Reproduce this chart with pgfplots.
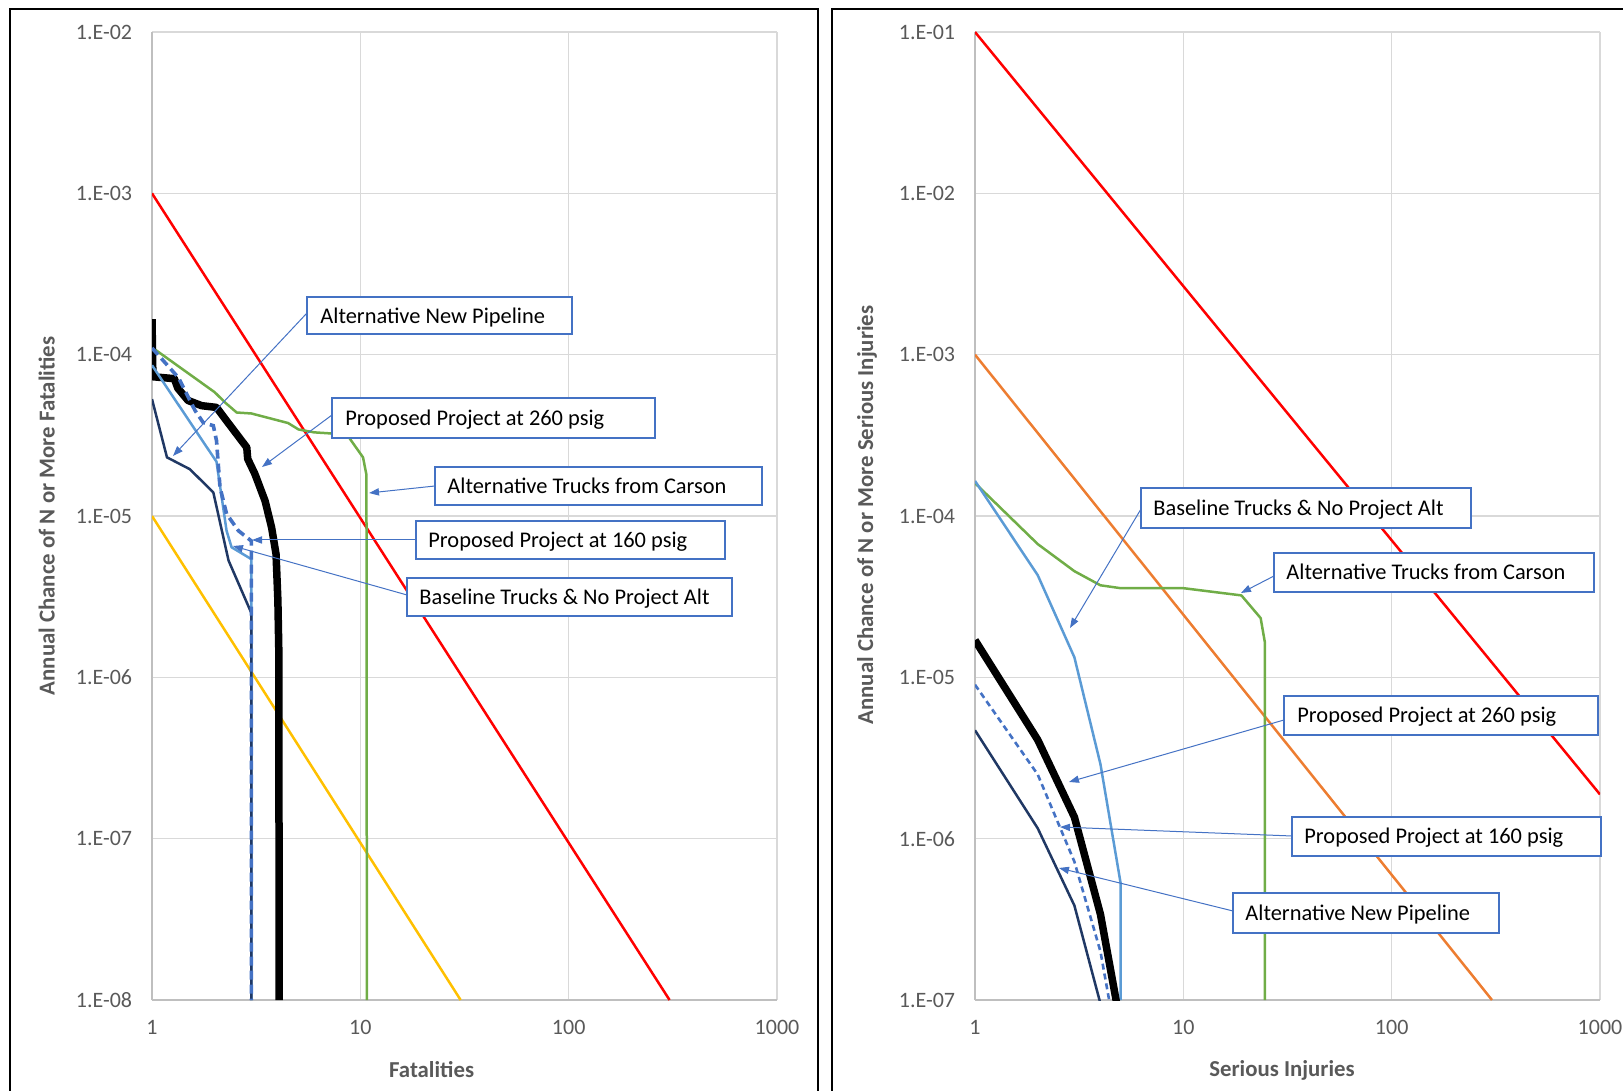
\documentclass[border=0pt]{standalone}
\usepackage{fontspec}
\setmainfont{Carlito}
\usepackage{pgfplots}
\pgfplotsset{compat=1.18}
\usetikzlibrary{arrows.meta}
\definecolor{gridc}{HTML}{D9D9D9}
\definecolor{axisc}{HTML}{BFBFBF}
\definecolor{tickc}{HTML}{595959}
\definecolor{lblue}{HTML}{5B9BD5}
\definecolor{mblue}{HTML}{4472C4}
\definecolor{navy}{HTML}{203864}
\definecolor{xgreen}{HTML}{70AD47}
\definecolor{xyellow}{HTML}{FFC000}
\definecolor{xorange}{HTML}{ED7D31}
\definecolor{xred}{HTML}{FF0000}

\newcommand{\afont}{\fontsize{11.2}{13}\selectfont}

\begin{document}
\begin{tikzpicture}
\useasboundingbox (0,0) rectangle (811.5pt,545.5pt);

% ---------------- Left: Fatalities ----------------
\begin{axis}[at={(76pt,45.5pt)}, anchor=south west,
  scale only axis, width=312.5pt, height=484pt,
  xmode=log, ymode=log, xmin=1, xmax=1000,
  xtick={1,10,100,1000}, xticklabels={1,10,100,1000},
  grid=major, grid style={gridc, line width=0.6pt},
  axis x line*=bottom, axis y line*=left,
  axis line style={axisc, line width=0.75pt, -},
  tick style={draw=none},
  major tick length=0pt, minor tick length=0pt,
  tick label style={font=\fontsize{11}{13}\selectfont, text=tickc, inner sep=0pt},
  xticklabel style={yshift=-10pt},
  yticklabel style={xshift=-9.75pt},
  ymin=1e-8, ymax=1e-2,
  ytick={1e-8,1e-7,1e-6,1e-5,1e-4,1e-3,1e-2},
  yticklabels={1.E-08,1.E-07,1.E-06,1.E-05,1.E-04,1.E-03,1.E-02}]
\addplot[line width=1.25pt, xred] coordinates {(1,1e-3) (305,1e-8)};
\addplot[line width=1.25pt, xyellow] coordinates {(1,1e-5) (30.3,1e-8)};
\addplot[line width=1.25pt, line join=round, xgreen] coordinates {
 (1,1.11e-4) (2.0,5.85e-5) (2.24,5.06e-5) (2.55,4.38e-5) (3.0,4.32e-5)
 (4.5,3.77e-5) (5.05,3.44e-5) (6.0,3.3e-5) (7.2,3.25e-5) (8.8,3.08e-5)
 (10.3,2.31e-5) (10.7,1.8e-5) (10.75,1e-8)};
\addplot[line width=3.75pt, black, line join=round] coordinates {
 (1,1.66e-4) (1.01,7.3e-5) (1.28,7.1e-5) (1.33,6.2e-5) (1.49,5.2e-5)
 (1.73,4.83e-5) (2.04,4.71e-5) (2.41,3.54e-5) (2.85,2.66e-5) (2.88,2.26e-5)
 (3.12,1.82e-5) (3.49,1.24e-5) (3.75,8.5e-6) (3.94,5.8e-6) (4.02,3e-6)
 (4.06,1.5e-6) (4.08,1e-8)};
\addplot[line width=1.25pt, line join=round, lblue] coordinates {
 (1,8.6e-5) (2.04,2.17e-5) (2.28,8.1e-6) (2.41,6.4e-6) (3.0,5.4e-6) (3.0,1e-8)};
\addplot[line width=1.25pt, line join=round, navy] coordinates {
 (1,5.3e-5) (1.18,2.31e-5) (1.52,1.95e-5) (1.97,1.4e-5) (2.33,5.3e-6)
 (3.0,2.5e-6) (3.0,1e-8)};
\addplot[line width=1.8pt, mblue, dash pattern=on 4.5pt off 2.5pt] coordinates {
 (1,1.1e-4) (1.34,7.2e-5) (1.61,4.5e-5) (1.76,3.8e-5) (1.97,3.63e-5)
 (2.04,2.93e-5) (2.12,1.51e-5) (2.28,1.03e-5) (2.6,8.1e-6) (3.0,7.0e-6) (3.0,1e-8)};
\end{axis}

% ---------------- Right: Serious Injuries ----------------
\begin{axis}[at={(487.5pt,45.5pt)}, anchor=south west,
  scale only axis, width=312.5pt, height=484pt,
  xmode=log, ymode=log, xmin=1, xmax=1000,
  xtick={1,10,100,1000}, xticklabels={1,10,100,1000},
  grid=major, grid style={gridc, line width=0.6pt},
  axis x line*=bottom, axis y line*=left,
  axis line style={axisc, line width=0.75pt, -},
  tick style={draw=none},
  major tick length=0pt, minor tick length=0pt,
  tick label style={font=\fontsize{11}{13}\selectfont, text=tickc, inner sep=0pt},
  xticklabel style={yshift=-10pt},
  yticklabel style={xshift=-9.75pt},
  ymin=1e-7, ymax=1e-1,
  ytick={1e-7,1e-6,1e-5,1e-4,1e-3,1e-2,1e-1},
  yticklabels={1.E-07,1.E-06,1.E-05,1.E-04,1.E-03,1.E-02,1.E-01}]
\addplot[line width=1.25pt, xred] coordinates {(1,1e-1) (1000,1.88e-6)};
\addplot[line width=1.25pt, xorange] coordinates {(1,1e-3) (303,1e-7)};
\addplot[line width=1.25pt, line join=round, xgreen] coordinates {
 (1,1.6e-4) (2,6.7e-5) (3,4.55e-5) (4,3.72e-5) (5,3.57e-5) (10,3.57e-5)
 (19,3.22e-5) (23.5,2.33e-5) (24.6,1.66e-5) (24.6,1e-7)};
\addplot[line width=1.25pt, line join=round, lblue] coordinates {
 (1,1.65e-4) (2,4.3e-5) (3,1.33e-5) (4,2.9e-6) (5,5.3e-7) (5,1e-7)};
\addplot[line width=3.75pt, black, line join=round] coordinates {
 (1,1.7e-5) (2,4.1e-6) (3,1.36e-6) (4,3.4e-7) (5,7e-8)};
\addplot[line width=1.25pt, line join=round, navy] coordinates {
 (1,4.7e-6) (2,1.16e-6) (3,3.85e-7) (4,9.5e-8)};
\addplot[line width=1.3pt, mblue, dash pattern=on 3pt off 2pt] coordinates {
 (1,9e-6) (2,2.5e-6) (3,7.2e-7) (4,2.0e-7) (5,4e-8)};
\end{axis}

% ---------------- Frames, labels, annotations (px units) ----------------
\begin{scope}[x=0.5pt, y=-0.5pt, shift={(0pt,545.5pt)}]
\draw[black, line width=1.25pt] (10,1100) -- (10,9) -- (818,9) -- (818,1100);
\draw[black, line width=1.25pt] (832,1100) -- (832,9) -- (1640,9);

\begin{scope}[every node/.style={font=\bfseries\fontsize{11.4}{13}\selectfont, text=tickc, inner sep=0pt}]
\node[rotate=90] at (46.6,516) {Annual Chance of N or More Fatalities};
\node[rotate=90] at (867,515) {Annual Chance of N or More Serious Injuries};
\node at (431.6,1070) {Fatalities};
\node at (1282,1070) {Serious Injuries};
\end{scope}

\tikzset{arr/.style={mblue, line width=0.5pt, -{Triangle[length=5pt,width=3.6pt]}},
         box/.style={mblue, line width=0.75pt, fill=white},
         atext/.style={anchor=base west, inner sep=0pt, font=\afont, text=black}}
% left arrows
\draw[arr] (307,313) -- (173,456);
\draw[arr] (332,415) -- (262,467);
\draw[arr] (435,486) -- (369,493);
\draw[arr] (416,540) -- (252,540);
\draw[arr] (407,595) -- (233,546);
% left boxes
\draw[box] (307,297) rectangle (572,334);
\node[atext] at (320,324) {Alternative New Pipeline};
\draw[box] (332,398) rectangle (655,438);
\node[atext] at (345,426) {Proposed Project at 260 psig};
\draw[box] (435,467) rectangle (762,505);
\node[atext] at (447,494) {Alternative Trucks from Carson};
\draw[box] (416,521) rectangle (725,559);
\node[atext] at (428,548) {Proposed Project at 160 psig};
\draw[box] (407,578) rectangle (732,616);
\node[atext] at (419,605) {Baseline Trucks \& No Project Alt};
% right arrows
\draw[arr] (1141,509) -- (1070,628);
\draw[arr] (1274,576) -- (1241,593);
\draw[arr] (1284,720) -- (1069,782);
\draw[arr] (1292,836) -- (1060,827);
\draw[arr] (1233,911) -- (1059,868);
% right boxes
\draw[box] (1141,488) rectangle (1471,528);
\node[atext] at (1153,516) {Baseline Trucks \& No Project Alt};
\draw[box] (1274,553) rectangle (1594,592);
\node[atext] at (1286,580) {Alternative Trucks from Carson};
\draw[box] (1284,696) rectangle (1598,735);
\node[atext] at (1297,723) {Proposed Project at 260 psig};
\draw[box] (1292,817) rectangle (1601,856);
\node[atext] at (1304,844) {Proposed Project at 160 psig};
\draw[box] (1233,893) rectangle (1499,933);
\node[atext] at (1245,921) {Alternative New Pipeline};
\end{scope}
\end{tikzpicture}
\end{document}
